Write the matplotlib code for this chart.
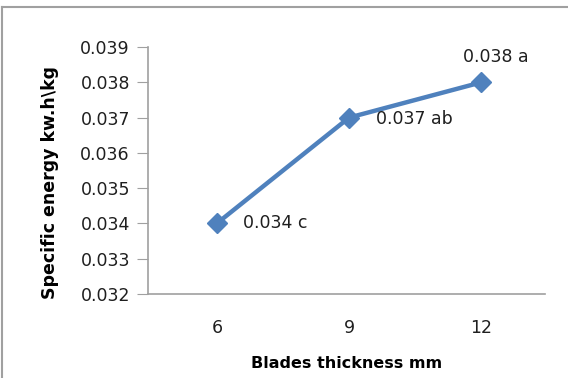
import matplotlib
matplotlib.use("Agg")
import matplotlib.pyplot as plt
from matplotlib.lines import Line2D

categories = ["6", "9", "12"]
values = [0.034, 0.037, 0.038]
labels = ["0.034 c", "0.037 ab", "0.038 a"]
yticks = [0.032, 0.033, 0.034, 0.035, 0.036, 0.037, 0.038, 0.039]

plt.rcParams['font.family'] = ['DejaVu Sans']
fig = plt.figure(figsize=(5.68, 3.78), dpi=100)
ax = fig.add_axes([148/568, 1-294/378, (545-148)/568, (294-47)/378])

x = list(range(len(categories)))
ax.plot(x, values, color='#4F81BD', lw=3.2, marker='D', ms=10, mfc='#4F81BD', mec='#4F81BD', zorder=3)

ax.set_xlim(-0.52, 2.48)
ax.set_ylim(0.032, 0.039)
ax.set_yticks(yticks)
ax.set_yticklabels([f"{v:.3f}" for v in yticks], fontsize=12.5, color='#1F1F1F')
ax.set_xticks(x)
ax.set_xticklabels(categories, fontsize=12.5, color='#1F1F1F')
for s in ['top', 'right']:
    ax.spines[s].set_visible(False)
for s in ['left', 'bottom']:
    ax.spines[s].set_color('#A0A0A0')
    ax.spines[s].set_linewidth(1.2)
ax.tick_params(axis='y', direction='out', length=8, color='#A0A0A0', pad=5)
ax.tick_params(axis='x', length=0, pad=18)

offsets = [((19, 0), 'left', 'center'), ((19, -1), 'left', 'center'), ((10, 18), 'center', 'center')]
for xi, v, lab, (off, ha, va) in zip(x, values, labels, offsets):
    ax.annotate(lab, (xi, v), xytext=off, textcoords='offset points', ha=ha, va=va,
                fontsize=12.5, color='#1F1F1F')

ax.set_xlabel("Blades thickness mm", fontsize=11.5, fontweight='bold', labelpad=14)
ax.set_ylabel("Specific energy kw.h\\kg", fontsize=12.5, fontweight='bold')
ax.yaxis.set_label_coords(-0.225, 0.45)

# figure border
fig.add_artist(Line2D([1.5/568, 1], [1-7/378, 1-7/378], transform=fig.transFigure, color='#A0A0A0', lw=1.5))
fig.add_artist(Line2D([1.5/568, 1.5/568], [0, 1-7/378], transform=fig.transFigure, color='#A0A0A0', lw=1.5))

fig.savefig("out.png", dpi=100)
